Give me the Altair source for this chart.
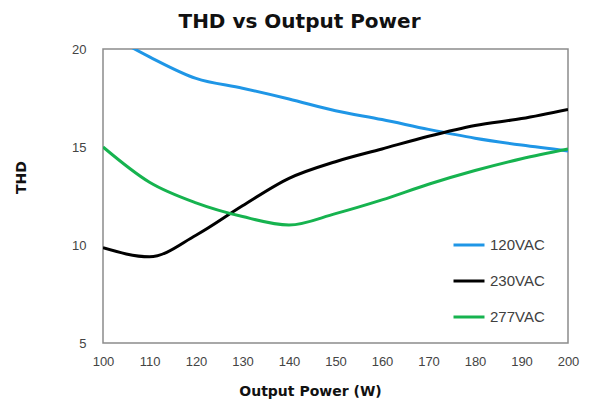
import altair as alt
import pandas as pd

power = [100, 110, 120, 130, 140, 150, 160, 170, 180, 190, 200]
thd_120 = [20.9, 19.6, 18.5, 18.0, 17.45, 16.85, 16.4, 15.9, 15.45, 15.1, 14.8]
thd_230 = [9.86, 9.4, 10.5, 12.0, 13.4, 14.25, 14.9, 15.55, 16.1, 16.45, 16.92]
thd_277 = [15.0, 13.2, 12.15, 11.45, 11.02, 11.6, 12.3, 13.1, 13.8, 14.4, 14.9]
series = ["120VAC", "230VAC", "277VAC"]
colors = ["#1f96e6", "#000000", "#16b34f"]
x_ticks = list(range(100, 201, 10))
y_ticks = [5, 10, 15, 20]

rows = []
for name, vals in zip(series, [thd_120, thd_230, thd_277]):
    for p, v in zip(power, vals):
        rows.append({"power": p, "thd": v, "series": name})
df = pd.DataFrame(rows)

chart = alt.Chart(df).mark_line(interpolate="monotone", strokeWidth=3, clip=True).encode(
    x=alt.X("power:Q",
            scale=alt.Scale(domain=[100, 200], nice=False),
            axis=alt.Axis(values=x_ticks, title="Output Power (W)", ticks=False, domain=False,
                          grid=False, labelPadding=12, labelFontSize=13, labelColor="#444444",
                          labelFlush=False,
                          labelFont="Liberation Sans", titleFont="DejaVu Sans", titleFontSize=14,
                          titleFontWeight="bold", titleColor="#111111", titleX=207, titleY=48,
                          titleBaseline="middle", titleAnchor="start", titleAlign="center")),
    y=alt.Y("thd:Q",
            scale=alt.Scale(domain=[5, 20], nice=False, zero=False),
            axis=alt.Axis(values=y_ticks, title="THD", ticks=False, domain=False, grid=False,
                          labelPadding=17, labelFontSize=13, labelColor="#444444",
                          labelFlush=False,
                          labelFont="Liberation Sans", titleFont="DejaVu Sans", titleFontSize=14,
                          titleFontWeight="bold", titleColor="#111111", titleX=-82, titleY=128,
                          titleBaseline="middle", titleAnchor="start", titleAlign="center")),
    color=alt.Color("series:N",
                    scale=alt.Scale(domain=series, range=colors),
                    legend=alt.Legend(title=None, orient="none", legendX=349, legendY=179,
                                      symbolType="stroke", symbolSize=961, symbolStrokeWidth=3,
                                      labelFontSize=15, labelFont="Liberation Sans",
                                      labelColor="#404040", rowPadding=11, labelOffset=4)),
).properties(
    width=465,
    height=294,
    autosize=alt.AutoSizeParams(type="none"),
    padding={"left": 95, "top": 41, "right": 14, "bottom": 62},
    title=alt.Title("THD vs Output Power", font="DejaVu Sans", fontSize=20, fontWeight="bold",
                    color="#111111", anchor="middle", dx=-36, offset=11),
).configure_view(stroke="#8c8c8c", strokeWidth=1.5)

chart.save("out.html", embed_options={"renderer": "svg", "actions": False})
